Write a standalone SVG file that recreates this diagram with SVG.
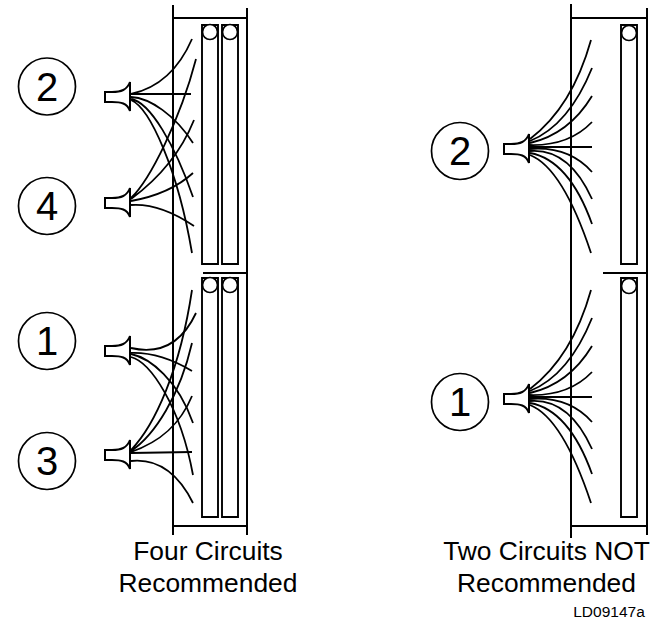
<svg xmlns="http://www.w3.org/2000/svg" width="659" height="620" viewBox="0 0 659 620">
<defs>
<g id="plug"><path d="M-26,-5 L-19,-5 C-10,-5 -4,-7 -1,-15 L-1,14 C-4,6 -10,5 -19,5 L-26,5 Z"/></g>
<g id="fan">
<path d="M530,139C555,120 577,90 591,40M530,141Q569,125 592,68M530,143Q569,134 592,96M530,145Q569,146 592,122M530,147H592M530,149Q569,146 592,172M530,151Q569,148 592,199M530,153Q569,160 592,224M530,155C555,165 575,205 591,253"/>
</g>
</defs>
<style>
.l{fill:none;stroke:#000;stroke-width:2}
.w{fill:none;stroke:#000;stroke-width:1.8}
.s{fill:#fff;stroke:#000;stroke-width:1.9}
.p{fill:#fff;stroke:#000;stroke-width:2}
.c{fill:#fff;stroke:#000;stroke-width:1.7}
text{font-family:"Liberation Sans",Arial,sans-serif;fill:#000;text-anchor:middle}
.n{font-size:40px}
.t{font-size:26.4px}
.f{font-size:15.5px}
</style>
<rect width="659" height="620" fill="#fff"/>
<g id="left-cabinet">
<path class="l" d="M173,5V535M247,8V535M173,18H247M173,526H247M203,273H247"/>
<path class="s" d="M202,25H218V264H202ZM222,25H238V264H222ZM202,278H218V517H202ZM222,278H238V517H222Z"/>
<circle class="c" cx="210" cy="32" r="7.5"/><circle class="c" cx="230" cy="32" r="7.5"/>
<circle class="c" cx="210" cy="285" r="7.5"/><circle class="c" cx="230" cy="285" r="7.5"/>
</g>
<g id="right-cabinet">
<path class="l" d="M571,4V538M647,8V535M571,18H647M571,526H647M603,273H647"/>
<path class="s" d="M621,25H637V264H621ZM621,278H637V517H621Z"/>
<circle class="c" cx="629" cy="33" r="7.5"/><circle class="c" cx="629" cy="286" r="7.5"/>
</g>
<g id="connectors">
<path class="w" d="M131,94Q172,85 192,39M131,94H191M131,97C150,98 175,115 193,143M131,99C150,102 175,145 193,197M131,100C150,108 178,170 192,253"/>
<path class="w" d="M131,198C150,180 180,120 196,59M131,199C150,185 178,160 194,120M131,201Q170,194 193,173M131,205Q160,203 194,226"/>
<path class="w" d="M131,348Q175,358 196,313M131,353Q160,352 192,371M131,354C150,358 178,380 193,423M131,357C150,362 180,405 193,475"/>
<path class="w" d="M131,450C155,425 180,370 192,290M131,451C155,435 180,395 192,343M131,452C160,442 180,425 192,396M131,453L192,452M131,461Q170,457 193,503"/>
<use href="#fan" class="w"/>
<use href="#fan" class="w" y="250"/>
</g>
<g id="plug-2"><use href="#plug" x="131" y="97" class="p"/></g>
<g id="plug-4"><use href="#plug" x="131" y="203" class="p"/></g>
<g id="plug-1"><use href="#plug" x="131" y="351" class="p"/></g>
<g id="plug-3"><use href="#plug" x="131" y="455" class="p"/></g>
<g id="plug-r2"><use href="#plug" x="530" y="149" class="p"/></g>
<g id="plug-r1"><use href="#plug" x="530" y="399" class="p"/></g>
<g id="node-l2"><circle class="c" cx="47" cy="86.5" r="28.5"/><text class="n" x="47" y="101">2</text></g>
<g id="node-l4"><circle class="c" cx="47" cy="206" r="28.5"/><text class="n" x="47" y="220">4</text></g>
<g id="node-l1"><circle class="c" cx="47" cy="341" r="28.5"/><text class="n" x="47" y="355">1</text></g>
<g id="node-l3"><circle class="c" cx="47" cy="461" r="28.5"/><text class="n" x="47" y="475">3</text></g>
<g id="node-r2"><circle class="c" cx="460" cy="151" r="28.5"/><text class="n" x="460" y="165">2</text></g>
<g id="node-r1"><circle class="c" cx="460" cy="402" r="28.5"/><text class="n" x="460" y="416">1</text></g>
<text class="t" x="208" y="560">Four Circuits</text>
<text class="t" x="208" y="592">Recommended</text>
<text class="t" x="546.5" y="560">Two Circuits NOT</text>
<text class="t" x="546.5" y="592">Recommended</text>
<text class="f" x="609" y="617">LD09147a</text>
</svg>
